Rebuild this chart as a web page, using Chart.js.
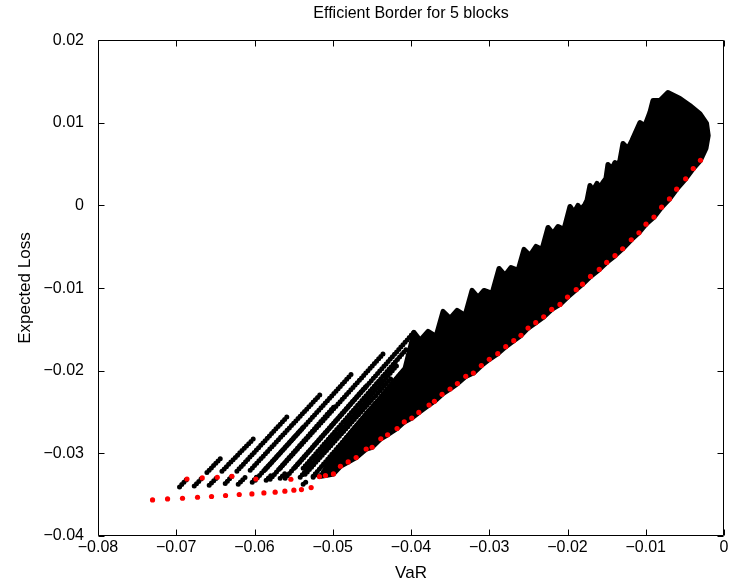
<!DOCTYPE html>
<html>
<head>
<meta charset="utf-8">
<script src="https://cdn.jsdelivr.net/npm/chart.js@4/dist/chart.umd.min.js"></script>
<style>
  html, body { margin: 0; padding: 0; background: #fff; }
  #wrap { width: 732px; height: 587px; }
</style>
</head>
<body>
<div id="wrap"><canvas id="chart" width="732" height="587"></canvas></div>
<script>
// axis ticks
const xTicks = [-0.08, -0.07, -0.06, -0.05, -0.04, -0.03, -0.02, -0.01, 0];
const yTicks = [-0.04, -0.03, -0.02, -0.01, 0, 0.01, 0.02];

// red: efficient border (lowest expected loss for each VaR)
const frontierVaR = [-0.05170, -0.05093, -0.04991, -0.04902, -0.04803, -0.04701, -0.04573, -0.04497, -0.04386, -0.04299,
  -0.04178, -0.04086, -0.03990, -0.03900, -0.03769, -0.03701, -0.03603, -0.03501, -0.03407, -0.03300,
  -0.03203, -0.03101, -0.02999, -0.02891, -0.02789, -0.02687, -0.02594, -0.02504, -0.02406, -0.02304,
  -0.02202, -0.02096, -0.02000, -0.01889, -0.01808, -0.01706, -0.01594, -0.01499, -0.01393, -0.01295,
  -0.01185, -0.01087, -0.00997, -0.00895, -0.00797, -0.00697, -0.00605, -0.00490, -0.00393, -0.00301];
const frontierLoss = [-0.03281, -0.03268, -0.03249, -0.03156, -0.03104, -0.03051, -0.02947, -0.02926, -0.02823, -0.02775,
  -0.02699, -0.02620, -0.02573, -0.02505, -0.02415, -0.02370, -0.02285, -0.02221, -0.02156, -0.02068,
  -0.02028, -0.01938, -0.01862, -0.01793, -0.01709, -0.01636, -0.01572, -0.01484, -0.01418, -0.01348,
  -0.01258, -0.01197, -0.01109, -0.01019, -0.00952, -0.00859, -0.00774, -0.00689, -0.00608, -0.00524,
  -0.00415, -0.00330, -0.00226, -0.00141, -0.00021, 0.00079, 0.00197, 0.00323, 0.00447, 0.00547];

// red: bottom row on the left
const baseVaR = [-0.07303, -0.07111, -0.06920, -0.06728, -0.06549, -0.06370, -0.06195, -0.06033, -0.05880, -0.05736, -0.05612, -0.05497, -0.05400, -0.05276];
const baseLoss = [-0.03563, -0.03551, -0.03543, -0.03531, -0.03522, -0.03510, -0.03498, -0.03491, -0.03479, -0.03470, -0.03458, -0.03446, -0.03438, -0.03414];

// red: ends of the short stubs
const tipVaR = [-0.06863, -0.06668, -0.06476, -0.06289, -0.05982, -0.05535];
const tipLoss = [-0.03310, -0.03297, -0.03289, -0.03277, -0.03310, -0.03313];

// black: upper outline of the dense cloud, left to right
const cloudVaR = [-0.05135, -0.04969, -0.04778, -0.04586, -0.04395, -0.04229, -0.04076,
  -0.03961, -0.03884, -0.03782, -0.03680,
  -0.03590, -0.03501, -0.03411, -0.03309, -0.03220, -0.03143, -0.03067, -0.02964, -0.02875, -0.02798,
  -0.02722, -0.02632, -0.02556, -0.02479, -0.02402, -0.02326, -0.02249, -0.02185, -0.02121, -0.02045,
  -0.01968, -0.01917, -0.01866, -0.01828, -0.01777, -0.01751, -0.01713, -0.01675, -0.01623, -0.01585,
  -0.01547, -0.01509, -0.01483, -0.01432, -0.01394, -0.01355, -0.01330, -0.01291, -0.01228, -0.01177,
  -0.01074, -0.01011, -0.00947, -0.00908, -0.00819, -0.00717, -0.00563, -0.00436, -0.00308, -0.00223,
  -0.00202, -0.00231];
const cloudLoss = [-0.03253, -0.02987, -0.02757, -0.02539, -0.02334, -0.02140, -0.01971,
  -0.01536, -0.01632, -0.01524, -0.01584,
  -0.01282, -0.01366, -0.01270, -0.01330, -0.01028, -0.01112, -0.01028, -0.01064, -0.00762, -0.00846,
  -0.00750, -0.00786, -0.00532, -0.00605, -0.00496, -0.00532, -0.00266, -0.00339, -0.00254, -0.00290,
  -0.00012, -0.00085, 0.00000, -0.00048, 0.00012, 0.00060, 0.00242, 0.00181, 0.00266, 0.00218,
  0.00278, 0.00326, 0.00496, 0.00447, 0.00520, 0.00496, 0.00544, 0.00750, 0.00689, 0.00786,
  0.01004, 0.00967, 0.01125, 0.01270, 0.01270, 0.01366, 0.01294, 0.01209, 0.01112, 0.00992,
  0.00846, 0.00689];

// black: diagonal streaks of points on the left (start -> end)
const streakX0 = [-0.06608, -0.06416, -0.06225, -0.06055, -0.05863, -0.05672, -0.05480,
  -0.05991, -0.05800, -0.05608, -0.05416, -0.05353, -0.05250, -0.05378,
  -0.06958, -0.06770, -0.06579, -0.06374, -0.06208, -0.06029, -0.05851, -0.05672, -0.05378, -0.05250];
const streakY0 = [-0.03232, -0.03216, -0.03216, -0.03204, -0.03196, -0.03180, -0.03168,
  -0.03325, -0.03313, -0.03301, -0.03289, -0.03253, -0.03277, -0.03180,
  -0.03406, -0.03394, -0.03386, -0.03365, -0.03374, -0.03349, -0.03325, -0.03301, -0.03374, -0.03289];
const streakX1 = [-0.06429, -0.05991, -0.05566, -0.05161, -0.04756, -0.04353, -0.03961,
  -0.05374, -0.04969, -0.04565, -0.04161, -0.04242, -0.04114, -0.04050,
  -0.06863, -0.06668, -0.06476, -0.06289, -0.06106, -0.05953, -0.05774, -0.05595, -0.05327, -0.05199];
const streakY1 = [-0.03056, -0.02802, -0.02539, -0.02289, -0.02035, -0.01793, -0.01532,
  -0.02681, -0.02418, -0.02177, -0.01914, -0.02080, -0.02019, -0.01729,
  -0.03310, -0.03297, -0.03289, -0.03277, -0.03277, -0.03265, -0.03253, -0.03229, -0.03337, -0.03241];

const pts = (xs, ys) => xs.map((x, i) => ({ x, y: ys[i] }));

// closed outline: upper edge, then back down along the border
const cloudShape = pts(cloudVaR, cloudLoss)
  .concat(pts(frontierVaR, frontierLoss).reverse());
cloudShape.push(cloudShape[0]);

const red = '#ff0000';
const redDots = { showLine: false, pointRadius: 2.6, pointBackgroundColor: red, pointBorderWidth: 0 };
const datasets = [
  { ...redDots, data: pts(frontierVaR, frontierLoss) },
  { ...redDots, data: pts(baseVaR, baseLoss) },
  { ...redDots, data: pts(tipVaR, tipLoss) },
  {
    data: cloudShape, pointRadius: 0, borderColor: '#000', backgroundColor: '#000',
    borderWidth: 5, borderJoinStyle: 'round', fill: 'shape',
  },
];
// streaks drawn as rows of round dots
streakX0.forEach((x0, i) => {
  datasets.push({
    data: [{ x: x0, y: streakY0[i] }, { x: streakX1[i], y: streakY1[i] }],
    pointRadius: 0, borderColor: '#000', borderWidth: 5,
    borderCapStyle: 'round', borderDash: [0, 3.2], fill: false,
  });
});

const fmt = v => {
  if (Math.abs(v) < 1e-9) return '0';
  return (v < 0 ? '\u2212' : '') + Math.abs(v).toFixed(2);
};

// matlab style box with inward ticks on all four sides
const frame = {
  id: 'frame',
  afterDatasetsDraw(chart) {
    const { ctx, chartArea: a, scales: { x, y } } = chart;
    const L = Math.round(a.left) + 0.5, R = Math.round(a.right) - 0.5;
    const T = Math.round(a.top) + 0.5, B = Math.round(a.bottom) - 0.5;
    const len = 6;
    ctx.save();
    ctx.strokeStyle = '#000';
    ctx.lineWidth = 1;
    ctx.beginPath();
    ctx.rect(L, T, R - L, B - T);
    xTicks.forEach(v => {
      const px = Math.round(x.getPixelForValue(v)) + 0.5;
      ctx.moveTo(px, B); ctx.lineTo(px, B - len);
      ctx.moveTo(px, T); ctx.lineTo(px, T + len);
    });
    yTicks.forEach(v => {
      const py = Math.round(y.getPixelForValue(v)) + 0.5;
      ctx.moveTo(L, py); ctx.lineTo(L + len, py);
      ctx.moveTo(R, py); ctx.lineTo(R - len, py);
    });
    ctx.stroke();
    ctx.restore();
  }
};

Chart.defaults.font.family = "'Liberation Sans', Arial, Helvetica, sans-serif";
Chart.defaults.color = '#000';

new Chart(document.getElementById('chart'), {
  type: 'line',
  data: { datasets },
  options: {
    responsive: false,
    animation: false,
    layout: { padding: { left: 0, right: 8, top: 0, bottom: 0 } },
    plugins: {
      legend: { display: false },
      tooltip: { enabled: false },
      title: {
        display: true,
        fullSize: false,
        text: 'Efficient Border for 5 blocks',
        font: { size: 16, weight: 'normal' },
        padding: { top: 4, bottom: 17 },
      },
    },
    scales: {
      x: {
        type: 'linear',
        min: -0.08, max: 0,
        afterBuildTicks: s => { s.ticks = xTicks.map(value => ({ value })); },
        afterFit: s => { s.height = 51; },
        grid: { display: false, drawTicks: false },
        border: { display: false },
        ticks: { callback: fmt, font: { size: 16 }, padding: 2, autoSkip: false, maxRotation: 0 },
        title: { display: true, text: 'VaR', font: { size: 17 }, padding: { top: 0, bottom: 3 } },
      },
      y: {
        type: 'linear',
        min: -0.04, max: 0.02,
        afterBuildTicks: s => { s.ticks = yTicks.map(value => ({ value })); },
        afterFit: s => { s.width = 98; },
        grid: { display: false, drawTicks: false },
        border: { display: false },
        ticks: { callback: fmt, font: { size: 16 }, padding: 14, autoSkip: false },
        title: { display: true, text: 'Expected Loss', font: { size: 17 }, padding: { top: 15, bottom: 0 } },
      },
    },
  },
  plugins: [frame],
});
</script>
</body>
</html>
